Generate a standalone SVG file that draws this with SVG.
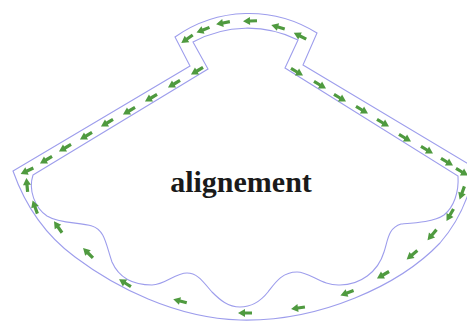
<svg xmlns="http://www.w3.org/2000/svg" xmlns:xlink="http://www.w3.org/1999/xlink" width="467" height="322" viewBox="0 0 467 322">
<style>
.wall{fill:none;stroke:#9d9dec;stroke-width:1.1;stroke-linejoin:miter}
.arr{fill:#4f9a3f}
.lbl{font-family:"Liberation Serif","Times New Roman",serif;font-weight:bold;font-size:30px;fill:#1a1a1a}
</style>
<defs>
<path id="a" class="arr" d="M-7,-1.6 L0,-1.6 L0,-4 L7,0 L0,4 L0,1.6 L-7,1.6 Z"/>
</defs>
<rect width="467" height="322" fill="#fff"/>
<g id="outer-wall">
<path class="wall" d="M13,171 C25,205 45,235 75,257 C115,287 175,318 240,320 C320,322 400,285 440,243 C460,220 470,195 475,168 L303,65 L317,33 A128 128 0 0 0 175,37 L190,66 Z"/>
</g>
<g id="inner-wall">
<path class="wall" d="M33,175 L208,69 L193,42 A114 114 0 0 1 298,40 L285,68 L458,176 C459,192 454,207 444,215 C434,222 414,223 401,224 C388,228 388,240 384,252 C378,272 360,285 340,285 C322,286 310,272 297,272 C282,272 275,283 268,292 C260,302 252,307 240,307 C228,307 220,300 212,292 C204,283 198,273 187,273 C175,273 165,285 152,285 C135,285 120,280 112,262 C106,245 105,230 92,226 C80,222 60,224 47,216 C35,208 28,190 33,175 Z"/>
</g>
<g id="connectors">
<use xlink:href="#a" transform="translate(300,36) rotate(-153)"/>
<use xlink:href="#a" transform="translate(278,27) rotate(-164)"/>
<use xlink:href="#a" transform="translate(250,21) rotate(178)"/>
<use xlink:href="#a" transform="translate(223,23) rotate(169)"/>
<use xlink:href="#a" transform="translate(203,30) rotate(158)"/>
<use xlink:href="#a" transform="translate(187,39) rotate(145)"/>
<use xlink:href="#a" transform="translate(197,71) rotate(149.5)"/>
<use xlink:href="#a" transform="translate(174,84) rotate(149.5)"/>
<use xlink:href="#a" transform="translate(151,98) rotate(149.5)"/>
<use xlink:href="#a" transform="translate(129,111) rotate(149.5)"/>
<use xlink:href="#a" transform="translate(107,123) rotate(149.5)"/>
<use xlink:href="#a" transform="translate(86,136) rotate(149.5)"/>
<use xlink:href="#a" transform="translate(65,148) rotate(149.5)"/>
<use xlink:href="#a" transform="translate(46,160) rotate(149.5)"/>
<use xlink:href="#a" transform="translate(27,171) rotate(155)"/>
<use xlink:href="#a" transform="translate(297,72) rotate(31)"/>
<use xlink:href="#a" transform="translate(320,85) rotate(31)"/>
<use xlink:href="#a" transform="translate(340,98) rotate(31)"/>
<use xlink:href="#a" transform="translate(362,110) rotate(31)"/>
<use xlink:href="#a" transform="translate(383,123) rotate(31)"/>
<use xlink:href="#a" transform="translate(405,138) rotate(31)"/>
<use xlink:href="#a" transform="translate(427,150) rotate(31)"/>
<use xlink:href="#a" transform="translate(447,162) rotate(31)"/>
<use xlink:href="#a" transform="translate(462,172) rotate(31)"/>
<use xlink:href="#a" transform="translate(462,193) rotate(110)"/>
<use xlink:href="#a" transform="translate(450,215) rotate(120)"/>
<use xlink:href="#a" transform="translate(432,235) rotate(130)"/>
<use xlink:href="#a" transform="translate(412,255) rotate(140)"/>
<use xlink:href="#a" transform="translate(383,275) rotate(150)"/>
<use xlink:href="#a" transform="translate(347,293) rotate(160)"/>
<use xlink:href="#a" transform="translate(298,308) rotate(172)"/>
<use xlink:href="#a" transform="translate(245,313) rotate(180)"/>
<use xlink:href="#a" transform="translate(180,301) rotate(-165)"/>
<use xlink:href="#a" transform="translate(125,283) rotate(-148)"/>
<use xlink:href="#a" transform="translate(88,253) rotate(-135)"/>
<use xlink:href="#a" transform="translate(58,227) rotate(-125)"/>
<use xlink:href="#a" transform="translate(35,207) rotate(-110)"/>
<use xlink:href="#a" transform="translate(27,185) rotate(-95)"/>
</g>
<g id="label">
<text class="lbl" x="241" y="192" text-anchor="middle">alignement</text>
</g>
</svg>
